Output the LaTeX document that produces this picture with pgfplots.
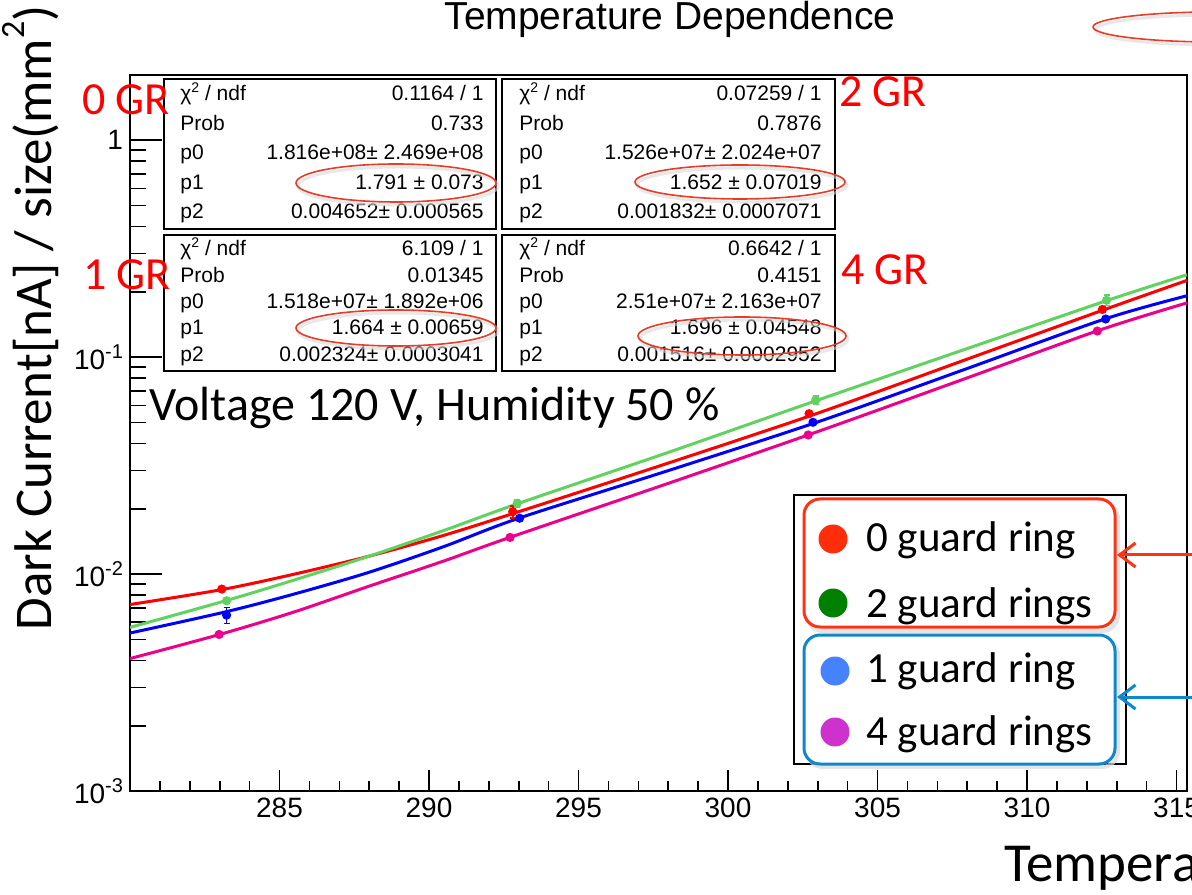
\documentclass[border=0pt]{standalone}
\usepackage{fontspec}
\setmainfont{Liberation Sans}
\newfontfamily\calib{Carlito}
\usepackage{pgfplots}
\pgfplotsset{compat=1.18}
\usetikzlibrary{arrows.meta}
\definecolor{rootgreen}{RGB}{95,210,95}
\definecolor{legred}{RGB}{255,45,10}
\definecolor{leggreen}{RGB}{0,128,0}
\definecolor{legblue}{RGB}{70,130,255}
\definecolor{legmag}{RGB}{205,50,205}
\definecolor{boxred}{RGB}{255,50,20}
\definecolor{boxblue}{RGB}{15,135,205}
\definecolor{ellred}{RGB}{230,60,40}
\newcommand\tsup[1]{\raisebox{0.75ex}{\fontsize{10}{10}\selectfont #1}}
\newcommand\csq{χ\raisebox{0.8ex}{\fontsize{7}{7}\selectfont 2}}
\begin{document}
\begin{tikzpicture}
\useasboundingbox (-65pt,-51.5pt) rectangle (531pt,395.5pt);
\clip (-65pt,-51.5pt) rectangle (531pt,395.5pt);
\begin{axis}[
  at={(0,0)}, anchor=south west,
  scale only axis, width=528.5pt, height=358pt,
  xmin=280, xmax=315.35, ymode=log, ymin=0.001, ymax=2,
  axis line style={line width=1pt},
  tick align=inside, xtick pos=bottom, ytick pos=left,
  xtick={285,290,295,300,305,310,315},
  xticklabels={285,290,295,300,305,310,315},
  minor xtick={281,282,283,284,286,287,288,289,291,292,293,294,296,297,298,299,301,302,303,304,306,307,308,309,311,312,313,314},
  ytick={0.001,0.01,0.1,1},
  yticklabels={10\tsup{-3},10\tsup{-2},10\tsup{-1},1},
  minor ytick={0.002,0.003,0.004,0.005,0.006,0.007,0.008,0.009,0.02,0.03,0.04,0.05,0.06,0.07,0.08,0.09,0.2,0.3,0.4,0.5,0.6,0.7,0.8,0.9},
  xtick style={/pgfplots/major tick length=10.5pt,/pgfplots/minor tick length=5pt},
  ytick style={/pgfplots/major tick length=16pt,/pgfplots/minor tick length=8pt},
  tick style={black, line width=0.8pt},
  tick label style={font=\fontsize{14}{14}\selectfont, black},
  every axis plot/.append style={line width=1.5pt},
]
% fitted curves
\addplot[magenta, smooth, no marks] table {
280 0.00408
283 0.00527
285.5 0.0067
288 0.0088
290.5 0.0115
292.7 0.01476
298 0.0262
303 0.0454
308 0.0803
312.4 0.133
315.35 0.178
};
\addplot[blue, smooth, no marks] table {
280 0.00535
283.2 0.0067
285.5 0.0081
288 0.0102
290.5 0.0134
293 0.0181
298 0.0300
303 0.0503
308 0.0887
312.6 0.150
315.35 0.192
};
\addplot[red, smooth, no marks] table {
280 0.00724
283.1 0.0085
285.5 0.0100
288 0.0121
290.5 0.0151
293 0.0194
298 0.0325
303 0.0552
308 0.098
312.6 0.166
315.35 0.226
};
\addplot[rootgreen, smooth, no marks] table {
280 0.00568
283.2 0.00754
285.5 0.0094
288 0.0121
290.5 0.0159
293 0.0212
298 0.0364
303 0.0634
308 0.1096
312.7 0.183
315.35 0.240
};
% data points
\addplot[magenta, only marks, mark=*, mark size=1.5pt,
  error bars/.cd, y dir=both, y explicit,
  error bar style={line width=0.8pt}, error mark options={rotate=90,mark size=1.5pt,line width=0.8pt}]
  table[y error=e] {
x y e
282.98 0.00527 0.0001
292.71 0.01476 0.0003
302.68 0.0438 0.0009
312.35 0.132 0.003
};
\addplot[blue, only marks, mark=*, mark size=1.5pt,
  error bars/.cd, y dir=both, y explicit,
  error bar style={line width=0.8pt}, error mark options={rotate=90,mark size=1.5pt,line width=0.8pt}]
  table[y error=e] {
x y e
283.23 0.00647 0.00055
293.03 0.0181 0.0004
302.84 0.0501 0.001
312.63 0.150 0.004
};
\addplot[red, only marks, mark=*, mark size=1.5pt,
  error bars/.cd, y dir=both, y explicit,
  error bar style={line width=0.8pt}, error mark options={rotate=90,mark size=1.5pt,line width=0.8pt}]
  table[y error=e] {
x y e
283.07 0.00853 0.0002
292.80 0.0194 0.0012
302.71 0.0549 0.0015
312.52 0.166 0.004
};
\addplot[rootgreen, only marks, mark=*, mark size=1.5pt,
  error bars/.cd, y dir=both, y explicit,
  error bar style={line width=0.8pt}, error mark options={rotate=90,mark size=1.5pt,line width=0.8pt}]
  table[y error=e] {
x y e
283.23 0.00754 0.0002
292.95 0.0212 0.0008
302.93 0.0634 0.003
312.66 0.183 0.01
};
\end{axis}
\begin{scope}[x=0.5pt,y=-0.5pt,shift={(-65pt,395.5pt)}, every node/.style={inner sep=0pt}]
% title
\node[anchor=base, font=\fontsize{19.5}{20}\selectfont] at (670,30) {Temperature Dependence};
\draw[black!15, line width=1.5pt, opacity=0.6] (1217,30) ellipse [x radius=122, y radius=15];
\draw[ellred, line width=0.8pt] (1215,27) ellipse [x radius=122, y radius=15];
% axis titles
\node[rotate=90, anchor=base, font=\calib\fontsize{26.5}{27}\selectfont] at (52,318) {Dark Current[nA] / size(mm\raisebox{1.1ex}{\fontsize{17}{17}\selectfont 2})};
\node[anchor=base west, font=\calib\fontsize{27.5}{28}\selectfont] at (1004,881) {Temperature [K]};
% stat boxes
\foreach \xa/\xb/\ya/\yb in {164/496/79/229, 502/835/79/229, 164/496/235/371, 502/835/235/371}
  \draw[black, line width=1pt, fill=white] (\xa,\ya) rectangle (\xb,\yb);
\begin{scope}[font=\fontsize{10.5}{12}\selectfont]
% box 1
\node[anchor=base west] at (180,101) {\csq{} / ndf};
\node[anchor=base west] at (180,131) {Prob};
\node[anchor=base west] at (180,160) {p0};
\node[anchor=base west] at (180,190) {p1};
\node[anchor=base west] at (180,219) {p2};
\node[anchor=base east] at (484,101) {0.1164 / 1};
\node[anchor=base east] at (484,131) {0.733};
\node[anchor=base east] at (484,160) {1.816e+08± 2.469e+08};
\node[anchor=base east] at (484,190) {1.791 ± 0.073};
\node[anchor=base east] at (484,219) {0.004652± 0.000565};
% box 2
\node[anchor=base west] at (519,101) {\csq{} / ndf};
\node[anchor=base west] at (519,131) {Prob};
\node[anchor=base west] at (519,160) {p0};
\node[anchor=base west] at (519,190) {p1};
\node[anchor=base west] at (519,219) {p2};
\node[anchor=base east] at (822,101) {0.07259 / 1};
\node[anchor=base east] at (822,131) {0.7876};
\node[anchor=base east] at (822,160) {1.526e+07± 2.024e+07};
\node[anchor=base east] at (822,190) {1.652 ± 0.07019};
\node[anchor=base east] at (822,219) {0.001832± 0.0007071};
% box 3
\node[anchor=base west] at (180,256) {\csq{} / ndf};
\node[anchor=base west] at (180,283) {Prob};
\node[anchor=base west] at (180,309) {p0};
\node[anchor=base west] at (180,335) {p1};
\node[anchor=base west] at (180,362) {p2};
\node[anchor=base east] at (484,256) {6.109 / 1};
\node[anchor=base east] at (484,283) {0.01345};
\node[anchor=base east] at (484,309) {1.518e+07± 1.892e+06};
\node[anchor=base east] at (484,335) {1.664 ± 0.00659};
\node[anchor=base east] at (484,362) {0.002324± 0.0003041};
% box 4
\node[anchor=base west] at (519,256) {\csq{} / ndf};
\node[anchor=base west] at (519,283) {Prob};
\node[anchor=base west] at (519,309) {p0};
\node[anchor=base west] at (519,335) {p1};
\node[anchor=base west] at (519,362) {p2};
\node[anchor=base east] at (822,256) {0.6642 / 1};
\node[anchor=base east] at (822,283) {0.4151};
\node[anchor=base east] at (822,309) {2.51e+07± 2.163e+07};
\node[anchor=base east] at (822,335) {1.696 ± 0.04548};
\node[anchor=base east] at (822,362) {0.001516± 0.0002952};
\end{scope}
% ellipses around p1
\foreach \cx/\cy/\rx/\ry in {396/183/100/19, 740/182/105/17, 396/328/100/18, 742/336/104/19}{
  \draw[black!15, line width=1.5pt, opacity=0.6] (\cx+2,\cy+3) ellipse [x radius=\rx, y radius=\ry];
  \draw[ellred, line width=0.8pt] (\cx,\cy) ellipse [x radius=\rx, y radius=\ry];
}
% GR labels
\begin{scope}[red, font=\calib\fontsize{23}{23}\selectfont]
\node at (126,100) {0 GR};
\node at (883,92) {2 GR};
\node at (127,275) {1 GR};
\node at (885,270) {4 GR};
\end{scope}
\node[anchor=base west, font=\calib\fontsize{24}{24}\selectfont] at (149,421) {Voltage 120 V, Humidity 50 \%};
% legend
\draw[black, line width=0.8pt, fill=white] (794,495) rectangle (1126,764);
\draw[black!15, line width=2pt, rounded corners=8pt, opacity=0.7] (807,503) rectangle (1118,631);
\draw[boxred, line width=1.5pt, rounded corners=8pt, fill=white] (804,499) rectangle (1115,627);
\draw[black!15, line width=2pt, rounded corners=8pt, opacity=0.7] (807,639) rectangle (1118,767);
\draw[boxblue, line width=1.5pt, rounded corners=8pt, fill=white] (804,635) rectangle (1115,764);
\fill[legred] (833,539) circle [radius=14.5];
\fill[leggreen] (833,603) circle [radius=14.5];
\fill[legblue] (835,671) circle [radius=14.5];
\fill[legmag] (835,732) circle [radius=14.5];
\begin{scope}[font=\calib\fontsize{21.5}{22}\selectfont]
\node[anchor=base west] at (866,552) {0 guard ring};
\node[anchor=base west] at (866,617) {2 guard rings};
\node[anchor=base west] at (866,682) {1 guard ring};
\node[anchor=base west] at (866,745) {4 guard rings};
\end{scope}
\draw[boxred, line width=1.5pt, -{Straight Barb[length=8pt,width=12pt]}] (1200,555) -- (1117,555);
\draw[boxblue, line width=1.5pt, -{Straight Barb[length=8pt,width=12pt]}] (1200,697) -- (1117,697);
\end{scope}
\end{tikzpicture}
\end{document}
